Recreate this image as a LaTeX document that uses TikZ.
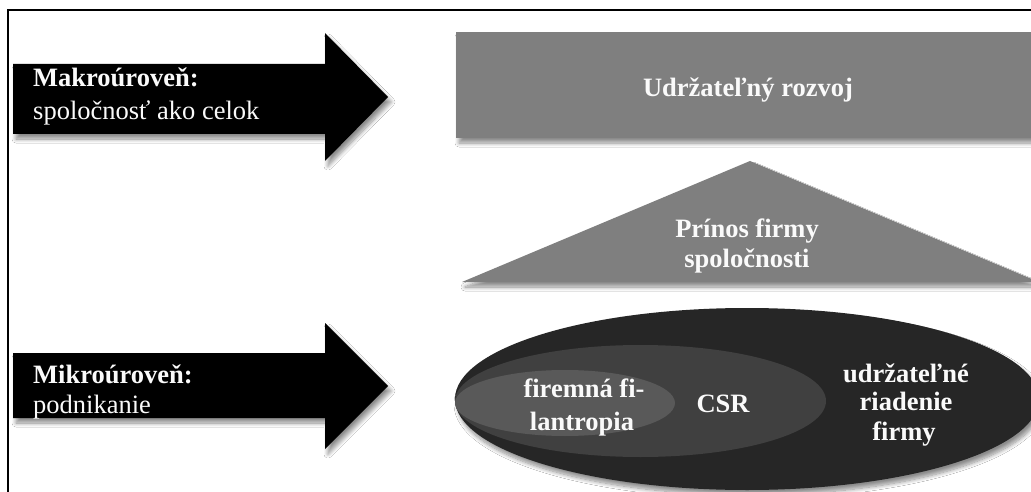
\documentclass[tikz,border=0pt]{standalone}
\usepackage{fontspec}
\setmainfont{Liberation Serif}
\usetikzlibrary{shadows,shadows.blur}
\definecolor{boxgray}{HTML}{7F7F7F}
\definecolor{outerell}{HTML}{262626}
\definecolor{midell}{HTML}{404040}
\definecolor{innerell}{HTML}{595959}
\definecolor{txtwhite}{HTML}{FAFAFA}
\begin{document}
\begin{tikzpicture}[x=1pt,y=-1pt,
  softshadow/.style={blur shadow={shadow xshift=3pt,shadow yshift=-5pt,shadow blur radius=4pt,shadow blur steps=10,shadow opacity=45}},
  lbl/.style={text=txtwhite,font=\bfseries\fontsize{26.5}{30}\selectfont,inner sep=0pt,anchor=base},
  sidebold/.style={text=txtwhite,inner sep=0pt,anchor=base west,font=\bfseries\fontsize{26.5}{31}\selectfont},
  sideplain/.style={text=txtwhite,inner sep=0pt,anchor=base west,font=\fontsize{26.5}{31}\selectfont}]
\useasboundingbox (0,0) rectangle (1031,492);
\clip (0,0) rectangle (1031,492);
\fill[white] (0,0) rectangle (1031,492);

% left arrows
\fill[black,softshadow] (13,64) -- (325,64) -- (325,33) -- (388,97) -- (325,161) -- (325,134) -- (13,134) -- cycle;
\fill[black,softshadow] (13,353) -- (325,353) -- (325,323) -- (388,386) -- (325,449) -- (325,418) -- (13,418) -- cycle;
\node[sidebold] (makro) at (33,87) {Makroúroveň:};
\node[sideplain] (spol) at (33,120) {spoločnosť ako celok};
\node[sidebold] (mikro) at (33,383) {Mikroúroveň:};
\node[sideplain] (podn) at (33,413) {podnikanie};

% top rectangle
\fill[boxgray,softshadow] (456,32) rectangle (1045,138);
\node[lbl] (rozvoj) at (748,97) {Udržateľný rozvoj};

% triangle
\fill[boxgray,softshadow] (462,282) -- (750,161) -- (1039,282) -- cycle;
\node[lbl] (prinos1) at (747,237) {Prínos firmy};
\node[lbl] (prinos2) at (747,267) {spoločnosti};

% ellipses
\fill[outerell,softshadow] (747,399) ellipse (292 and 91);
\fill[midell] (640.5,401) ellipse (185.5 and 56);
\fill[innerell] (565,403) ellipse (110 and 33);
\node[lbl] (fil1) at (584,397) {firemná fi-};
\node[lbl] (fil2) at (582,430) {lantropia};
\node[lbl] (csr) at (723,412) {CSR};
\node[lbl] (ur1) at (906,382) {udržateľné};
\node[lbl] (ur2) at (906,410) {riadenie};
\node[lbl] (ur3) at (904,440) {firmy};

% frame
\draw[line width=2.2pt] (8,495) -- (8,10) -- (1035,10);
\end{tikzpicture}
\end{document}
